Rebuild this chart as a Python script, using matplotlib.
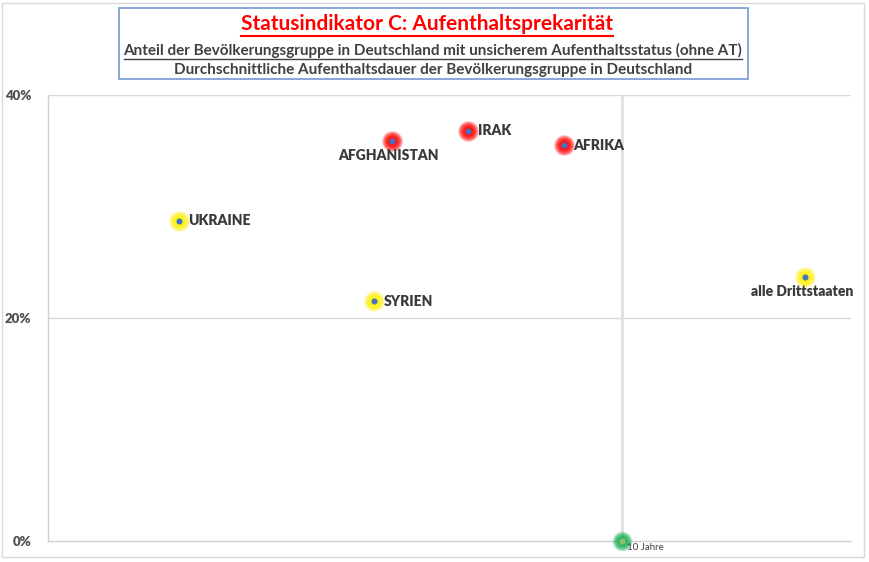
import numpy as np
import matplotlib
matplotlib.use("Agg")
import matplotlib.pyplot as plt
from matplotlib.patches import Rectangle
from matplotlib.lines import Line2D

plt.rcParams['font.family'] = ['Lato', 'DejaVu Sans']

# Data: average residence duration (years) and share with insecure status (%)
groups = ["UKRAINE", "SYRIEN", "AFGHANISTAN", "IRAK", "AFRIKA", "alle Drittstaaten"]
years = [2.28, 5.68, 5.99, 7.32, 8.99, 13.19]
share = [28.7, 21.5, 35.9, 36.8, 35.5, 23.7]
glow = ["yellow", "yellow", "red", "red", "red", "yellow"]
label_pos = ["right", "right", "below", "right", "right", "below"]

ref_year = 10
ref_label = "10 Jahre"

y_ticks = [0, 20, 40]
y_tick_labels = ["0%", "20%", "40%"]

W, H = 870, 562
fig = plt.figure(figsize=(W / 100, H / 100), dpi=100)
ax = fig.add_axes([48 / W, 1 - 541 / H, (851 - 48) / W, (541 - 95) / H])

ax.set_xlim(0, 14)
ax.set_ylim(0, 40)
for s in ["top", "right"]:
    ax.spines[s].set_visible(False)
for s in ["left", "bottom"]:
    ax.spines[s].set_color("#d0d0d0")
    ax.spines[s].set_linewidth(1.0)
ax.set_xticks([])
ax.set_yticks(y_ticks)
ax.set_yticklabels(y_tick_labels, fontsize=9.5, fontweight="heavy", color="#505050")
ax.tick_params(axis="y", length=0, pad=12)
for t in y_ticks[1:]:
    ax.axhline(t, color="#d9d9d9", lw=1.0, zorder=0)
ax.axvline(ref_year, color="#e0e0e0", lw=2.0, zorder=0)

glow_colors = {"yellow": (1.0, 0.95, 0.0), "red": (1.0, 0.0, 0.0), "green": (0.1, 0.7, 0.35)}


def glow_point(x, y, color, r_max=10.5, r_min=3.0, core="#4472C4"):
    c = glow_colors[color]
    radii = np.linspace(r_max, r_min, 24)
    for r in radii:
        d_pt = 2 * r * 72 / 100
        ax.scatter([x], [y], s=d_pt ** 2, color=c, alpha=0.10, lw=0,
                   zorder=3, clip_on=False)
    d_core = 2 * 3.0 * 72 / 100
    ax.scatter([x], [y], s=d_core ** 2, color=core, lw=0, zorder=4, clip_on=False)


for g, x, y, col, pos in zip(groups, years, share, glow, label_pos):
    glow_point(x, y, col)
    if pos == "right":
        ax.annotate(g, (x, y), xytext=(7, 0), textcoords="offset points",
                    ha="left", va="center", fontsize=10, fontweight="heavy",
                    color="#3a3a3a")
    else:
        ax.annotate(g, (x, y), xytext=(-2, -6), textcoords="offset points",
                    ha="center", va="top", fontsize=10, fontweight="heavy",
                    color="#3a3a3a")

glow_point(ref_year, 0, "green", r_max=10.0, core="#8fbf6f")
ax.annotate(ref_label, (ref_year, 0), xytext=(4, -5), textcoords="offset points",
            ha="left", va="center", fontsize=7, color="#404040")

# Outer frame around the whole chart
fig.patches.append(Rectangle((2 / W, 1 - 557 / H), 862 / W, 554 / H,
                             transform=fig.transFigure, fill=False,
                             edgecolor="#d9d9d9", lw=1.0))

# Title box
fig.patches.append(Rectangle((119 / W, 1 - 79 / H), (748 - 119) / W, (79 - 8) / H,
                             transform=fig.transFigure, facecolor="white",
                             edgecolor="#7f9fd8", lw=1.3, zorder=5))

cx = 433 / W
t1 = fig.text(427 / W, 1 - 24 / H, "Statusindikator C: Aufenthaltsprekarität",
              ha="center", va="center", fontsize=15, fontweight="bold",
              color="#ff0000", zorder=6)
t2 = fig.text(cx, 1 - 50 / H,
              "Anteil der Bevölkerungsgruppe in Deutschland mit unsicherem Aufenthaltsstatus (ohne AT)",
              ha="center", va="center", fontsize=11, fontweight="bold",
              color="#404040", zorder=6)
t3 = fig.text(cx, 1 - 70 / H,
              "Durchschnittliche Aufenthaltsdauer der Bevölkerungsgruppe in Deutschland",
              ha="center", va="center", fontsize=11, fontweight="bold",
              color="#404040", zorder=6)

# Underlines beneath the title and first subtitle
fig.canvas.draw()
renderer = fig.canvas.get_renderer()
for t, col, off, lw in [(t1, "#ff0000", 2, 1.5), (t2, "#404040", 1, 1.0)]:
    bb = t.get_window_extent(renderer)
    y = (bb.y0 - off) / H
    fig.lines.append(Line2D([bb.x0 / W, bb.x1 / W], [y, y],
                            transform=fig.transFigure, color=col, lw=lw, zorder=6))

fig.savefig("out.png", dpi=100)
